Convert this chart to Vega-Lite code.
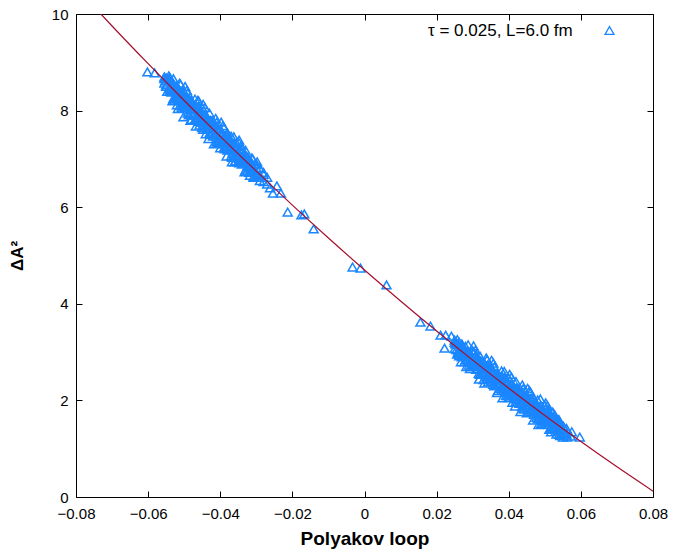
{
  "$schema": "https://vega.github.io/schema/vega-lite/v6.json",
  "width": 577,
  "height": 483,
  "autosize": {"type": "none"},
  "padding": {"left": 76, "top": 14, "right": 22, "bottom": 55},
  "background": "white",
  "config": {
    "view": {"stroke": "#000000", "strokeWidth": 1},
    "font": "Liberation Sans",
    "axis": {"grid": false, "domain": false, "tickColor": "#000000", "tickSize": -6, "tickWidth": 1, "labelColor": "#000000", "labelFont": "Liberation Sans", "labelFontSize": 15, "titleColor": "#000000", "titleFont": "Liberation Sans"}
  },
  "datasets": {
    "pts": [
      {"x": -0.0602, "y": 8.80}, {"x": -0.0582, "y": 8.78},
      {"x": -0.0555, "y": 8.70}, {"x": -0.0555, "y": 8.57}, {"x": -0.0555, "y": 8.66},
      {"x": -0.055, "y": 8.68}, {"x": -0.055, "y": 8.53}, {"x": -0.055, "y": 8.62}, {"x": -0.055, "y": 8.50},
      {"x": -0.054, "y": 8.61}, {"x": -0.054, "y": 8.45}, {"x": -0.054, "y": 8.69}, {"x": -0.054, "y": 8.40},
      {"x": -0.053, "y": 8.42}, {"x": -0.053, "y": 8.66}, {"x": -0.053, "y": 8.25}, {"x": -0.053, "y": 8.51},
      {"x": -0.052, "y": 8.50}, {"x": -0.052, "y": 8.26}, {"x": -0.052, "y": 8.39}, {"x": -0.052, "y": 8.12},
      {"x": -0.051, "y": 8.20}, {"x": -0.051, "y": 8.54}, {"x": -0.051, "y": 8.33}, {"x": -0.051, "y": 8.12},
      {"x": -0.050, "y": 8.31}, {"x": -0.050, "y": 8.15}, {"x": -0.050, "y": 8.39}, {"x": -0.050, "y": 8.07},
      {"x": -0.049, "y": 8.11}, {"x": -0.049, "y": 8.36}, {"x": -0.049, "y": 7.95}, {"x": -0.049, "y": 8.20},
      {"x": -0.048, "y": 8.20}, {"x": -0.048, "y": 7.96}, {"x": -0.048, "y": 8.09}, {"x": -0.048, "y": 7.82},
      {"x": -0.047, "y": 7.90}, {"x": -0.047, "y": 8.24}, {"x": -0.047, "y": 8.03}, {"x": -0.047, "y": 7.82},
      {"x": -0.046, "y": 8.01}, {"x": -0.046, "y": 7.85}, {"x": -0.046, "y": 8.09}, {"x": -0.046, "y": 7.77},
      {"x": -0.045, "y": 7.82}, {"x": -0.045, "y": 8.06}, {"x": -0.045, "y": 7.65}, {"x": -0.045, "y": 7.91},
      {"x": -0.044, "y": 7.90}, {"x": -0.044, "y": 7.66}, {"x": -0.044, "y": 7.79}, {"x": -0.044, "y": 7.52},
      {"x": -0.043, "y": 7.61}, {"x": -0.043, "y": 7.95}, {"x": -0.043, "y": 7.74}, {"x": -0.043, "y": 7.53},
      {"x": -0.042, "y": 7.71}, {"x": -0.042, "y": 7.55}, {"x": -0.042, "y": 7.79}, {"x": -0.042, "y": 7.47},
      {"x": -0.041, "y": 7.52}, {"x": -0.041, "y": 7.76}, {"x": -0.041, "y": 7.35}, {"x": -0.041, "y": 7.61},
      {"x": -0.040, "y": 7.61}, {"x": -0.040, "y": 7.37}, {"x": -0.040, "y": 7.50}, {"x": -0.040, "y": 7.23},
      {"x": -0.039, "y": 7.31}, {"x": -0.039, "y": 7.65}, {"x": -0.039, "y": 7.44}, {"x": -0.039, "y": 7.23},
      {"x": -0.038, "y": 7.42}, {"x": -0.038, "y": 7.26}, {"x": -0.038, "y": 7.50}, {"x": -0.038, "y": 7.18},
      {"x": -0.037, "y": 7.23}, {"x": -0.037, "y": 7.47}, {"x": -0.037, "y": 7.06}, {"x": -0.037, "y": 7.32},
      {"x": -0.036, "y": 7.32}, {"x": -0.036, "y": 7.08}, {"x": -0.036, "y": 7.21}, {"x": -0.036, "y": 6.94},
      {"x": -0.035, "y": 7.02}, {"x": -0.035, "y": 7.36}, {"x": -0.035, "y": 7.15}, {"x": -0.035, "y": 6.94},
      {"x": -0.034, "y": 7.13}, {"x": -0.034, "y": 6.97}, {"x": -0.034, "y": 7.21}, {"x": -0.034, "y": 6.89},
      {"x": -0.033, "y": 6.94}, {"x": -0.033, "y": 7.18}, {"x": -0.033, "y": 6.77}, {"x": -0.033, "y": 7.03},
      {"x": -0.032, "y": 6.99}, {"x": -0.032, "y": 6.81}, {"x": -0.032, "y": 6.92}, {"x": -0.032, "y": 6.72},
      {"x": -0.031, "y": 6.76}, {"x": -0.031, "y": 7.00}, {"x": -0.031, "y": 6.85},
      {"x": -0.030, "y": 6.82}, {"x": -0.030, "y": 6.69}, {"x": -0.030, "y": 6.90}, {"x": -0.030, "y": 6.62},
      {"x": -0.029, "y": 6.66}, {"x": -0.029, "y": 6.80}, {"x": -0.029, "y": 6.55},
      {"x": -0.028, "y": 6.68}, {"x": -0.028, "y": 6.53}, {"x": -0.028, "y": 6.72},
      {"x": -0.027, "y": 6.48}, {"x": -0.027, "y": 6.62},
      {"x": -0.0535, "y": 8.55}, {"x": -0.0535, "y": 8.38},
      {"x": -0.0525, "y": 8.30}, {"x": -0.0525, "y": 8.49},
      {"x": -0.0515, "y": 8.45}, {"x": -0.0515, "y": 8.24},
      {"x": -0.0505, "y": 8.18}, {"x": -0.0505, "y": 8.36},
      {"x": -0.0495, "y": 8.29}, {"x": -0.0495, "y": 8.06},
      {"x": -0.0485, "y": 8.02}, {"x": -0.0485, "y": 8.22},
      {"x": -0.0475, "y": 8.15}, {"x": -0.0475, "y": 7.93},
      {"x": -0.0465, "y": 7.86}, {"x": -0.0465, "y": 8.07},
      {"x": -0.0455, "y": 8.00}, {"x": -0.0455, "y": 7.78},
      {"x": -0.0445, "y": 7.71}, {"x": -0.0445, "y": 7.92},
      {"x": -0.0435, "y": 7.85}, {"x": -0.0435, "y": 7.63},
      {"x": -0.0425, "y": 7.56}, {"x": -0.0425, "y": 7.78},
      {"x": -0.0415, "y": 7.70}, {"x": -0.0415, "y": 7.49},
      {"x": -0.0405, "y": 7.42}, {"x": -0.0405, "y": 7.62},
      {"x": -0.0395, "y": 7.55}, {"x": -0.0395, "y": 7.34},
      {"x": -0.0385, "y": 7.27}, {"x": -0.0385, "y": 7.48},
      {"x": -0.0375, "y": 7.40}, {"x": -0.0375, "y": 7.20},
      {"x": -0.0365, "y": 7.13}, {"x": -0.0365, "y": 7.33},
      {"x": -0.0355, "y": 7.26}, {"x": -0.0355, "y": 7.05},
      {"x": -0.0345, "y": 6.99}, {"x": -0.0345, "y": 7.18},
      {"x": -0.0335, "y": 7.10}, {"x": -0.0335, "y": 6.91},
      {"x": -0.0325, "y": 6.85}, {"x": -0.0325, "y": 7.03},
      {"x": -0.0315, "y": 6.95}, {"x": -0.0315, "y": 6.77},
      {"x": -0.0305, "y": 6.72}, {"x": -0.0305, "y": 6.88},
      {"x": -0.05425, "y": 8.72}, {"x": -0.05375, "y": 8.45},
      {"x": -0.05325, "y": 8.20}, {"x": -0.05275, "y": 8.53},
      {"x": -0.05225, "y": 8.44}, {"x": -0.05175, "y": 8.04},
      {"x": -0.05125, "y": 8.57}, {"x": -0.05075, "y": 8.05},
      {"x": -0.05025, "y": 8.14}, {"x": -0.04975, "y": 8.50},
      {"x": -0.04925, "y": 8.42}, {"x": -0.04875, "y": 8.09},
      {"x": -0.04825, "y": 7.80}, {"x": -0.04775, "y": 8.17},
      {"x": -0.04725, "y": 8.06}, {"x": -0.04675, "y": 7.68},
      {"x": -0.04625, "y": 8.21}, {"x": -0.04575, "y": 7.70},
      {"x": -0.04525, "y": 7.76}, {"x": -0.04475, "y": 8.13},
      {"x": -0.04425, "y": 8.06}, {"x": -0.04375, "y": 7.73},
      {"x": -0.04325, "y": 7.42}, {"x": -0.04275, "y": 7.80},
      {"x": -0.04225, "y": 7.69}, {"x": -0.04175, "y": 7.31},
      {"x": -0.04125, "y": 7.84}, {"x": -0.04075, "y": 7.33},
      {"x": -0.04025, "y": 7.39}, {"x": -0.03975, "y": 7.76},
      {"x": -0.03925, "y": 7.69}, {"x": -0.03875, "y": 7.35},
      {"x": -0.03825, "y": 7.06}, {"x": -0.03775, "y": 7.43},
      {"x": -0.03725, "y": 7.33}, {"x": -0.03675, "y": 6.94},
      {"x": -0.03625, "y": 7.46}, {"x": -0.03575, "y": 6.96},
      {"x": -0.03525, "y": 7.03}, {"x": -0.03475, "y": 7.39},
      {"x": -0.03425, "y": 7.28}, {"x": -0.03375, "y": 6.99},
      {"x": -0.03325, "y": 6.73}, {"x": -0.03275, "y": 7.06},
      {"x": -0.03225, "y": 6.97}, {"x": -0.03175, "y": 6.66},
      {"x": -0.03125, "y": 7.02}, {"x": -0.03075, "y": 6.62},
      {"x": -0.03025, "y": 6.72}, {"x": -0.02975, "y": 6.94},
      {"x": -0.0552, "y": 8.62}, {"x": -0.0547, "y": 8.40}, {"x": -0.0542, "y": 8.65}, {"x": -0.0537, "y": 8.42},
      {"x": -0.0532, "y": 8.52}, {"x": -0.0527, "y": 8.21}, {"x": -0.0522, "y": 8.35}, {"x": -0.0517, "y": 8.23},
      {"x": -0.0512, "y": 8.32}, {"x": -0.0507, "y": 8.10}, {"x": -0.0502, "y": 8.34}, {"x": -0.0497, "y": 8.12},
      {"x": -0.0492, "y": 8.22}, {"x": -0.0487, "y": 7.91}, {"x": -0.0482, "y": 8.05}, {"x": -0.0477, "y": 7.93},
      {"x": -0.0472, "y": 8.02}, {"x": -0.0467, "y": 7.80}, {"x": -0.0462, "y": 8.05}, {"x": -0.0457, "y": 7.82},
      {"x": -0.0452, "y": 7.92}, {"x": -0.0447, "y": 7.61}, {"x": -0.0442, "y": 7.76}, {"x": -0.0437, "y": 7.63},
      {"x": -0.0432, "y": 7.72}, {"x": -0.0427, "y": 7.51}, {"x": -0.0422, "y": 7.75}, {"x": -0.0417, "y": 7.52},
      {"x": -0.0412, "y": 7.63}, {"x": -0.0407, "y": 7.32}, {"x": -0.0402, "y": 7.46}, {"x": -0.0397, "y": 7.34},
      {"x": -0.0392, "y": 7.43}, {"x": -0.0387, "y": 7.21}, {"x": -0.0382, "y": 7.46}, {"x": -0.0377, "y": 7.23},
      {"x": -0.0372, "y": 7.33}, {"x": -0.0367, "y": 7.03}, {"x": -0.0362, "y": 7.17}, {"x": -0.0357, "y": 7.05},
      {"x": -0.0352, "y": 7.14}, {"x": -0.0347, "y": 6.92}, {"x": -0.0342, "y": 7.17}, {"x": -0.0337, "y": 6.94},
      {"x": -0.0332, "y": 7.05}, {"x": -0.0327, "y": 6.74}, {"x": -0.0322, "y": 6.88}, {"x": -0.0317, "y": 6.76},
      {"x": -0.0312, "y": 6.85}, {"x": -0.0307, "y": 6.64}, {"x": -0.0302, "y": 6.88}, {"x": -0.0297, "y": 6.66},
      {"x": -0.046, "y": 8.20}, {"x": -0.0502, "y": 7.87}, {"x": -0.038, "y": 7.54}, {"x": -0.0355, "y": 7.33}, {"x": -0.0291, "y": 6.81},
      {"x": -0.0262, "y": 6.40}, {"x": -0.0254, "y": 6.29}, {"x": -0.0243, "y": 6.44}, {"x": -0.0232, "y": 6.29},
      {"x": -0.0213, "y": 5.90}, {"x": -0.0175, "y": 5.84}, {"x": -0.0167, "y": 5.86}, {"x": -0.0141, "y": 5.55},
      {"x": -0.0033, "y": 4.76}, {"x": -0.0011, "y": 4.74}, {"x": 0.0061, "y": 4.39},
      {"x": 0.0155, "y": 3.62}, {"x": 0.0183, "y": 3.54}, {"x": 0.0211, "y": 3.35}, {"x": 0.0225, "y": 3.35}, {"x": 0.0241, "y": 3.33}, {"x": 0.0222, "y": 3.08}, {"x": 0.0255, "y": 3.19},
      {"x": 0.025, "y": 3.20}, {"x": 0.025, "y": 3.07}, {"x": 0.025, "y": 3.25},
      {"x": 0.026, "y": 3.02}, {"x": 0.026, "y": 3.16}, {"x": 0.026, "y": 2.97},
      {"x": 0.027, "y": 3.10}, {"x": 0.027, "y": 2.95}, {"x": 0.027, "y": 3.17}, {"x": 0.027, "y": 2.90},
      {"x": 0.028, "y": 2.93}, {"x": 0.028, "y": 3.12}, {"x": 0.028, "y": 2.84}, {"x": 0.028, "y": 3.01},
      {"x": 0.029, "y": 3.00}, {"x": 0.029, "y": 2.80}, {"x": 0.029, "y": 2.92}, {"x": 0.029, "y": 2.73},
      {"x": 0.030, "y": 2.75}, {"x": 0.030, "y": 3.03}, {"x": 0.030, "y": 2.87}, {"x": 0.030, "y": 2.70},
      {"x": 0.031, "y": 2.87}, {"x": 0.031, "y": 2.72}, {"x": 0.031, "y": 2.95}, {"x": 0.031, "y": 2.64},
      {"x": 0.032, "y": 2.70}, {"x": 0.032, "y": 2.92}, {"x": 0.032, "y": 2.54}, {"x": 0.032, "y": 2.78},
      {"x": 0.033, "y": 2.79}, {"x": 0.033, "y": 2.58}, {"x": 0.033, "y": 2.68}, {"x": 0.033, "y": 2.43},
      {"x": 0.034, "y": 2.52}, {"x": 0.034, "y": 2.84}, {"x": 0.034, "y": 2.64}, {"x": 0.034, "y": 2.45},
      {"x": 0.035, "y": 2.64}, {"x": 0.035, "y": 2.48}, {"x": 0.035, "y": 2.71}, {"x": 0.035, "y": 2.40},
      {"x": 0.036, "y": 2.46}, {"x": 0.036, "y": 2.69}, {"x": 0.036, "y": 2.30}, {"x": 0.036, "y": 2.55},
      {"x": 0.037, "y": 2.56}, {"x": 0.037, "y": 2.34}, {"x": 0.037, "y": 2.46}, {"x": 0.037, "y": 2.20},
      {"x": 0.038, "y": 2.29}, {"x": 0.038, "y": 2.61}, {"x": 0.038, "y": 2.41}, {"x": 0.038, "y": 2.21},
      {"x": 0.039, "y": 2.41}, {"x": 0.039, "y": 2.25}, {"x": 0.039, "y": 2.48}, {"x": 0.039, "y": 2.17},
      {"x": 0.040, "y": 2.23}, {"x": 0.040, "y": 2.46}, {"x": 0.040, "y": 2.06}, {"x": 0.040, "y": 2.32},
      {"x": 0.041, "y": 2.33}, {"x": 0.041, "y": 2.10}, {"x": 0.041, "y": 2.22}, {"x": 0.041, "y": 1.96},
      {"x": 0.042, "y": 2.06}, {"x": 0.042, "y": 2.39}, {"x": 0.042, "y": 2.18}, {"x": 0.042, "y": 1.98},
      {"x": 0.043, "y": 2.18}, {"x": 0.043, "y": 2.02}, {"x": 0.043, "y": 2.26}, {"x": 0.043, "y": 1.94},
      {"x": 0.044, "y": 2.00}, {"x": 0.044, "y": 2.24}, {"x": 0.044, "y": 1.84}, {"x": 0.044, "y": 2.09},
      {"x": 0.045, "y": 2.11}, {"x": 0.045, "y": 1.88}, {"x": 0.045, "y": 2.00}, {"x": 0.045, "y": 1.74},
      {"x": 0.046, "y": 1.83}, {"x": 0.046, "y": 2.17}, {"x": 0.046, "y": 1.96}, {"x": 0.046, "y": 1.76},
      {"x": 0.047, "y": 1.95}, {"x": 0.047, "y": 1.79}, {"x": 0.047, "y": 2.03}, {"x": 0.047, "y": 1.71},
      {"x": 0.048, "y": 1.78}, {"x": 0.048, "y": 2.01}, {"x": 0.048, "y": 1.62}, {"x": 0.048, "y": 1.87},
      {"x": 0.049, "y": 1.88}, {"x": 0.049, "y": 1.64}, {"x": 0.049, "y": 1.77}, {"x": 0.049, "y": 1.52},
      {"x": 0.050, "y": 1.61}, {"x": 0.050, "y": 1.90}, {"x": 0.050, "y": 1.73}, {"x": 0.050, "y": 1.55},
      {"x": 0.051, "y": 1.73}, {"x": 0.051, "y": 1.58}, {"x": 0.051, "y": 1.80}, {"x": 0.051, "y": 1.50},
      {"x": 0.052, "y": 1.56}, {"x": 0.052, "y": 1.76}, {"x": 0.052, "y": 1.42}, {"x": 0.052, "y": 1.64},
      {"x": 0.053, "y": 1.64}, {"x": 0.053, "y": 1.45}, {"x": 0.053, "y": 1.55}, {"x": 0.053, "y": 1.36},
      {"x": 0.054, "y": 1.40}, {"x": 0.054, "y": 1.59}, {"x": 0.054, "y": 1.30}, {"x": 0.054, "y": 1.50},
      {"x": 0.055, "y": 1.47}, {"x": 0.055, "y": 1.33}, {"x": 0.055, "y": 1.24},
      {"x": 0.056, "y": 1.30}, {"x": 0.056, "y": 1.42},
      {"x": 0.0255, "y": 3.05}, {"x": 0.0255, "y": 3.17},
      {"x": 0.0265, "y": 3.12}, {"x": 0.0265, "y": 2.98},
      {"x": 0.0275, "y": 2.91}, {"x": 0.0275, "y": 3.06},
      {"x": 0.0285, "y": 3.01}, {"x": 0.0285, "y": 2.85},
      {"x": 0.0295, "y": 2.78}, {"x": 0.0295, "y": 2.95},
      {"x": 0.0305, "y": 2.90}, {"x": 0.0305, "y": 2.73},
      {"x": 0.0315, "y": 2.66}, {"x": 0.0315, "y": 2.84},
      {"x": 0.0325, "y": 2.79}, {"x": 0.0325, "y": 2.60},
      {"x": 0.0335, "y": 2.55}, {"x": 0.0335, "y": 2.73},
      {"x": 0.0345, "y": 2.68}, {"x": 0.0345, "y": 2.49},
      {"x": 0.0355, "y": 2.42}, {"x": 0.0355, "y": 2.61},
      {"x": 0.0365, "y": 2.56}, {"x": 0.0365, "y": 2.37},
      {"x": 0.0375, "y": 2.31}, {"x": 0.0375, "y": 2.50},
      {"x": 0.0385, "y": 2.45}, {"x": 0.0385, "y": 2.25},
      {"x": 0.0395, "y": 2.20}, {"x": 0.0395, "y": 2.38},
      {"x": 0.0405, "y": 2.33}, {"x": 0.0405, "y": 2.14},
      {"x": 0.0415, "y": 2.08}, {"x": 0.0415, "y": 2.27},
      {"x": 0.0425, "y": 2.21}, {"x": 0.0425, "y": 2.02},
      {"x": 0.0435, "y": 1.96}, {"x": 0.0435, "y": 2.15},
      {"x": 0.0445, "y": 2.10}, {"x": 0.0445, "y": 1.91},
      {"x": 0.0455, "y": 1.86}, {"x": 0.0455, "y": 2.04},
      {"x": 0.0465, "y": 1.99}, {"x": 0.0465, "y": 1.80},
      {"x": 0.0475, "y": 1.75}, {"x": 0.0475, "y": 1.93},
      {"x": 0.0485, "y": 1.87}, {"x": 0.0485, "y": 1.69},
      {"x": 0.0495, "y": 1.64}, {"x": 0.0495, "y": 1.81},
      {"x": 0.0505, "y": 1.76}, {"x": 0.0505, "y": 1.58},
      {"x": 0.0515, "y": 1.53}, {"x": 0.0515, "y": 1.70},
      {"x": 0.0525, "y": 1.64}, {"x": 0.0525, "y": 1.47},
      {"x": 0.0535, "y": 1.42}, {"x": 0.0535, "y": 1.58},
      {"x": 0.02575, "y": 3.26}, {"x": 0.02625, "y": 2.92},
      {"x": 0.02675, "y": 2.80}, {"x": 0.02725, "y": 3.12},
      {"x": 0.02775, "y": 3.05}, {"x": 0.02825, "y": 2.70},
      {"x": 0.02875, "y": 3.15}, {"x": 0.02925, "y": 2.66},
      {"x": 0.02975, "y": 2.78}, {"x": 0.03025, "y": 3.13},
      {"x": 0.03075, "y": 3.04}, {"x": 0.03125, "y": 2.71},
      {"x": 0.03175, "y": 2.44}, {"x": 0.03225, "y": 2.82},
      {"x": 0.03275, "y": 2.74}, {"x": 0.03325, "y": 2.36},
      {"x": 0.03375, "y": 2.88}, {"x": 0.03425, "y": 2.38},
      {"x": 0.03475, "y": 2.47}, {"x": 0.03525, "y": 2.83},
      {"x": 0.03575, "y": 2.77}, {"x": 0.03625, "y": 2.44},
      {"x": 0.03675, "y": 2.16}, {"x": 0.03725, "y": 2.53},
      {"x": 0.03775, "y": 2.45}, {"x": 0.03825, "y": 2.05},
      {"x": 0.03875, "y": 2.60}, {"x": 0.03925, "y": 2.10},
      {"x": 0.03975, "y": 2.18}, {"x": 0.04025, "y": 2.54},
      {"x": 0.04075, "y": 2.48}, {"x": 0.04125, "y": 2.16},
      {"x": 0.04175, "y": 1.88}, {"x": 0.04225, "y": 2.25},
      {"x": 0.04275, "y": 2.16}, {"x": 0.04325, "y": 1.77},
      {"x": 0.04375, "y": 2.32}, {"x": 0.04425, "y": 1.82},
      {"x": 0.04475, "y": 1.90}, {"x": 0.04525, "y": 2.25},
      {"x": 0.04575, "y": 2.20}, {"x": 0.04625, "y": 1.88},
      {"x": 0.04675, "y": 1.59}, {"x": 0.04725, "y": 1.96},
      {"x": 0.04775, "y": 1.88}, {"x": 0.04825, "y": 1.50},
      {"x": 0.04875, "y": 2.03}, {"x": 0.04925, "y": 1.55},
      {"x": 0.04975, "y": 1.62}, {"x": 0.05025, "y": 1.95},
      {"x": 0.05075, "y": 1.89}, {"x": 0.05125, "y": 1.40},
      {"x": 0.05175, "y": 1.35}, {"x": 0.05225, "y": 1.75},
      {"x": 0.05275, "y": 1.70}, {"x": 0.05325, "y": 1.30},
      {"x": 0.05375, "y": 1.60}, {"x": 0.05425, "y": 1.27},
      {"x": 0.0252, "y": 3.17}, {"x": 0.0257, "y": 2.96}, {"x": 0.0262, "y": 3.21}, {"x": 0.0267, "y": 2.99},
      {"x": 0.0272, "y": 3.10}, {"x": 0.0277, "y": 2.80}, {"x": 0.0282, "y": 2.95}, {"x": 0.0287, "y": 2.83},
      {"x": 0.0292, "y": 2.93}, {"x": 0.0297, "y": 2.72}, {"x": 0.0302, "y": 2.97}, {"x": 0.0307, "y": 2.75},
      {"x": 0.0312, "y": 2.86}, {"x": 0.0317, "y": 2.56}, {"x": 0.0322, "y": 2.71}, {"x": 0.0327, "y": 2.59},
      {"x": 0.0332, "y": 2.69}, {"x": 0.0337, "y": 2.49}, {"x": 0.0342, "y": 2.74}, {"x": 0.0347, "y": 2.52},
      {"x": 0.0352, "y": 2.63}, {"x": 0.0357, "y": 2.33}, {"x": 0.0362, "y": 2.48}, {"x": 0.0367, "y": 2.36},
      {"x": 0.0372, "y": 2.46}, {"x": 0.0377, "y": 2.25}, {"x": 0.0382, "y": 2.50}, {"x": 0.0387, "y": 2.29},
      {"x": 0.0392, "y": 2.40}, {"x": 0.0397, "y": 2.10}, {"x": 0.0402, "y": 2.25}, {"x": 0.0407, "y": 2.13},
      {"x": 0.0412, "y": 2.23}, {"x": 0.0417, "y": 2.03}, {"x": 0.0422, "y": 2.28}, {"x": 0.0427, "y": 2.06},
      {"x": 0.0432, "y": 2.17}, {"x": 0.0437, "y": 1.87}, {"x": 0.0442, "y": 2.02}, {"x": 0.0447, "y": 1.91},
      {"x": 0.0452, "y": 2.01}, {"x": 0.0457, "y": 1.80}, {"x": 0.0462, "y": 2.05}, {"x": 0.0467, "y": 1.83},
      {"x": 0.0472, "y": 1.95}, {"x": 0.0477, "y": 1.65}, {"x": 0.0482, "y": 1.80}, {"x": 0.0487, "y": 1.68},
      {"x": 0.0492, "y": 1.78}, {"x": 0.0497, "y": 1.58}, {"x": 0.0502, "y": 1.83}, {"x": 0.0507, "y": 1.61},
      {"x": 0.0512, "y": 1.72}, {"x": 0.0517, "y": 1.43}, {"x": 0.0522, "y": 1.58}, {"x": 0.0527, "y": 1.46},
      {"x": 0.0532, "y": 1.56}, {"x": 0.0537, "y": 1.36}, {"x": 0.0542, "y": 1.52}, {"x": 0.0547, "y": 1.39},
      {"x": 0.0552, "y": 1.46}, {"x": 0.0557, "y": 1.28},
      {"x": 0.0562, "y": 1.24}, {"x": 0.0572, "y": 1.26}, {"x": 0.0575, "y": 1.35}, {"x": 0.0597, "y": 1.24}
    ],
    "fit": [
      {"x": -0.0731, "y": 10.0}, {"x": -0.07, "y": 9.752}, {"x": -0.06, "y": 8.971}, {"x": -0.05, "y": 8.209},
      {"x": -0.04, "y": 7.467}, {"x": -0.03, "y": 6.746}, {"x": -0.02, "y": 6.044}, {"x": -0.01, "y": 5.362},
      {"x": 0.0, "y": 4.7}, {"x": 0.01, "y": 4.058}, {"x": 0.02, "y": 3.436}, {"x": 0.03, "y": 2.834},
      {"x": 0.04, "y": 2.251}, {"x": 0.05, "y": 1.689}, {"x": 0.06, "y": 1.147}, {"x": 0.07, "y": 0.624},
      {"x": 0.08, "y": 0.121}
    ]
  },
  "layer": [
    {
      "data": {"name": "pts"},
      "mark": {"type": "point", "shape": "triangle-up", "filled": false, "size": 80, "strokeWidth": 1.5, "opacity": 1},
      "encoding": {
        "x": {"field": "x", "type": "quantitative", "scale": {"domain": [-0.08, 0.08], "nice": false, "zero": false},
          "axis": {"orient": "bottom", "values": [-0.08, -0.06, -0.04, -0.02, 0, 0.02, 0.04, 0.06, 0.08], "format": "~g", "title": "Polyakov loop", "titleFontSize": 19, "titleFontWeight": "bold", "labelPadding": 15, "titlePadding": 8, "labelFlush": false}},
        "y": {"field": "y", "type": "quantitative", "scale": {"domain": [0, 10], "nice": false, "zero": false},
          "axis": {"orient": "left", "values": [0, 2, 4, 6, 8, 10], "title": "ΔA²", "titleFontSize": 17, "titleFontWeight": "bold", "labelPadding": 14, "titlePadding": 25, "labelFlush": false}},
        "color": {"datum": "τ = 0.025, L=6.0 fm", "type": "nominal", "scale": {"range": ["#1a86ff"]},
          "legend": {"title": null, "orient": "none", "legendX": 337, "legendY": 8, "labelFontSize": 17, "labelColor": "#000000", "labelFont": "Liberation Sans", "symbolOffset": 188, "labelOffset": -190, "symbolType": "triangle-up", "symbolSize": 80, "symbolStrokeWidth": 1.3, "padding": 0}}
      }
    },
    {
      "data": {"name": "fit"},
      "mark": {"type": "line", "color": "#a50f2d", "strokeWidth": 1.2, "clip": true, "interpolate": "monotone"},
      "encoding": {
        "x": {"field": "x", "type": "quantitative", "axis": {"orient": "top", "values": [-0.08, -0.06, -0.04, -0.02, 0, 0.02, 0.04, 0.06, 0.08], "labels": false, "title": null}},
        "y": {"field": "y", "type": "quantitative", "axis": {"orient": "right", "values": [0, 2, 4, 6, 8, 10], "labels": false, "title": null}}
      }
    }
  ],
  "resolve": {"axis": {"x": "independent", "y": "independent"}}
}
